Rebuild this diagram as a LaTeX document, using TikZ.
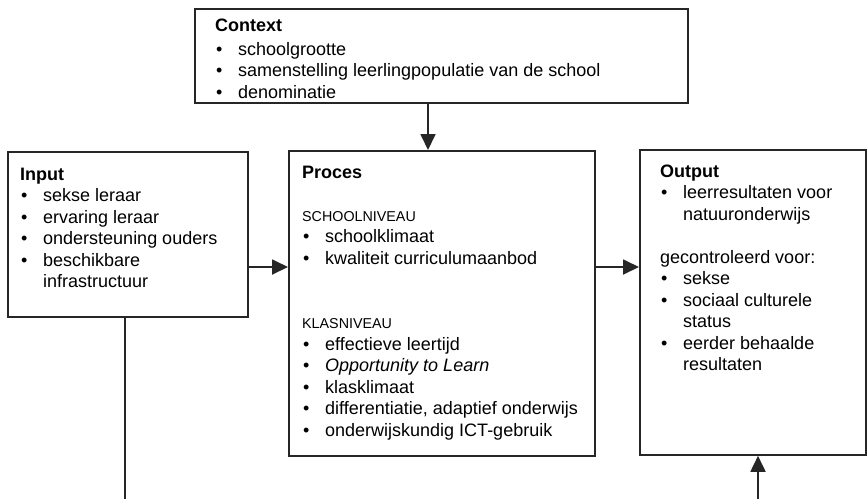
\documentclass[tikz,border=0pt]{standalone}
\usepackage{fontspec}
\setmainfont{Liberation Sans}
\usepackage{tikz}
\usetikzlibrary{arrows.meta,positioning}
\tikzset{>={Triangle[length=16pt,width=15pt]},auto}
\newcommand{\bul}{\makebox[23pt][l]{\hspace{1pt}\textbullet}}
\newcommand{\inspr}{\hspace*{23pt}}
\newcommand{\niveau}[1]{{\fontsize{14.3}{21.5}\selectfont #1}}

\begin{document}
\begin{tikzpicture}[x=1pt,y=-1pt]
    \tikzset{blok/.style={draw=black!85,line width=1.8pt,rectangle,inner sep=0pt,anchor=north west},
             tekst/.style={inner sep=0pt,anchor=base west,font=\fontsize{18}{21.5}\selectfont},
             pijl/.style={->,draw=black!85,line width=1.8pt},
             lijn/.style={draw=black!85,line width=1.8pt}}
    \useasboundingbox (0,0) rectangle (867,499);

    % de vier blokken
    \node[blok,minimum width=493pt,minimum height=94pt]  (ctx)  at (194,8)   {};
    \node[blok,minimum width=240pt,minimum height=165pt] (inp)  at (7,151)   {};
    \node[blok,minimum width=306pt,minimum height=305pt] (proc) at (288,150) {};
    \node[blok,minimum width=226pt,minimum height=305pt] (outp) at (639,149) {};

    % teksten in de blokken
    \node[tekst] (ctxtxt) at ([shift={(21pt,-23pt)}]ctx.north west) {\begin{tabular}[t]{@{}l@{}}
        \textbf{Context}\\[2.5pt]
        \bul schoolgrootte\\
        \bul samenstelling leerlingpopulatie van de school\\
        \bul denominatie
        \end{tabular}};
    \node[tekst] (inptxt) at ([shift={(13pt,-29pt)}]inp.north west) {\begin{tabular}[t]{@{}l@{}}
        \textbf{Input}\\
        \bul sekse leraar\\
        \bul ervaring leraar\\
        \bul ondersteuning ouders\\
        \bul beschikbare\\
        \inspr infrastructuur
        \end{tabular}};
    \node[tekst] (proctxt) at ([shift={(14pt,-28pt)}]proc.north west) {\begin{tabular}[t]{@{}l@{}}
        \textbf{Proces}\\
        \\
        \niveau{SCHOOLNIVEAU}\\
        \bul schoolklimaat\\
        \bul kwaliteit curriculumaanbod\\
        \\
        \\
        \niveau{KLASNIVEAU}\\
        \bul effectieve leertijd\\
        \bul \textit{Opportunity to Learn}\\
        \bul klasklimaat\\
        \bul differentiatie, adaptief onderwijs\\
        \bul onderwijskundig ICT-gebruik
        \end{tabular}};
    \node[tekst] (outtxt) at ([shift={(21pt,-28pt)}]outp.north west) {\begin{tabular}[t]{@{}l@{}}
        \textbf{Output}\\
        \bul leerresultaten voor\\
        \inspr natuuronderwijs\\
        \\
        gecontroleerd voor:\\
        \bul sekse\\
        \bul sociaal culturele\\
        \inspr status\\
        \bul eerder behaalde\\
        \inspr resultaten
        \end{tabular}};

    % verbindingen
    \coordinate (pijly)   at (0,267);
    \coordinate (ctxx)    at (428,0);
    \coordinate (inpvoet) at (125,499);
    \coordinate (outvoet) at (758,499);
    \draw[pijl] (ctx.south -| ctxx) -- (proc.north -| ctxx);
    \draw[pijl] (inp.east |- pijly) -- (proc.west |- pijly);
    \draw[pijl] (proc.east |- pijly) -- (outp.west |- pijly);
    \draw[lijn] (inp.south -| inpvoet) -- (inpvoet);
    \draw[pijl] (outvoet) -- (outp.south -| outvoet);
\end{tikzpicture}
\end{document}
